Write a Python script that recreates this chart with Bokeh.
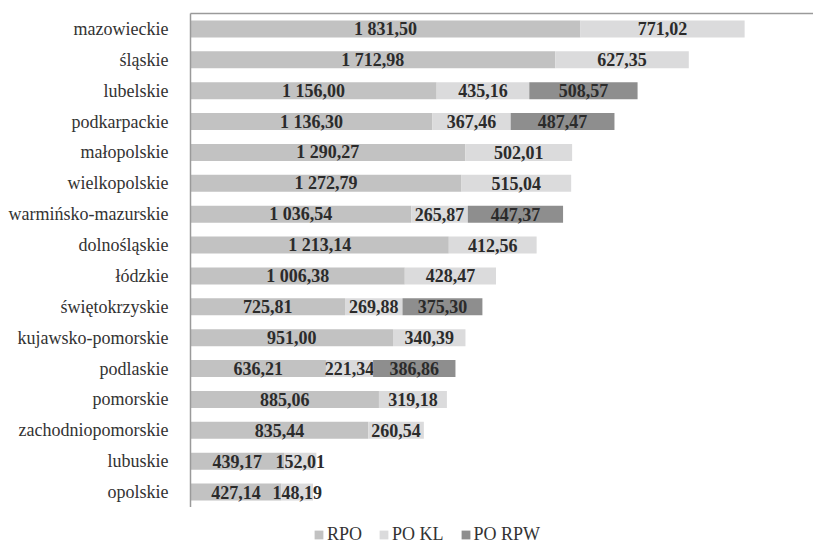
from bokeh.plotting import figure
from bokeh.layouts import column
from bokeh.models import ColumnDataSource, Range1d, FactorRange, Legend, LegendItem, FixedTicker
from bokeh.core.properties import value
from bokeh.embed import file_html
from bokeh.resources import INLINE

regions = ["mazowieckie", "śląskie", "lubelskie", "podkarpackie", "małopolskie",
           "wielkopolskie", "warmińsko-mazurskie", "dolnośląskie", "łódzkie",
           "świętokrzyskie", "kujawsko-pomorskie", "podlaskie", "pomorskie",
           "zachodniopomorskie", "lubuskie", "opolskie"]
rpo = [1831.50, 1712.98, 1156.00, 1136.30, 1290.27, 1272.79, 1036.54, 1213.14,
       1006.38, 725.81, 951.00, 636.21, 885.06, 835.44, 439.17, 427.14]
po_kl = [771.02, 627.35, 435.16, 367.46, 502.01, 515.04, 265.87, 412.56,
         428.47, 269.88, 340.39, 221.34, 319.18, 260.54, 152.01, 148.19]
po_rpw = [0, 0, 508.57, 487.47, 0, 0, 447.37, 0,
          0, 375.30, 0, 386.86, 0, 0, 0, 0]
series = ["RPO", "PO KL", "PO RPW"]
colors = ["#c2c2c2", "#dbdbdc", "#8e8e8e"]

def fmt(v):
    s = f"{v:,.2f}"
    return s.replace(",", " ").replace(".", ",")

FONT = "Liberation Serif"

p = figure(y_range=FactorRange(*list(reversed(regions)), range_padding=0),
           x_range=Range1d(0, 2926), width=813, height=507,
           output_backend="svg", toolbar_location=None, x_axis_location="above",
           min_border_left=190, min_border_right=0, min_border_top=13, min_border_bottom=0)

src = dict(RPO=rpo, PO_KL=po_kl, PO_RPW=po_rpw)
left = [0.0] * len(regions)
for key, col in zip(["RPO", "PO_KL", "PO_RPW"], colors):
    vals = src[key]
    right = [l + v for l, v in zip(left, vals)]
    s = ColumnDataSource(dict(y=regions, left=left, right=right,
                              mid=[(l + r) / 2 for l, r in zip(left, right)],
                              lab=[fmt(v) if v > 0 else "" for v in vals]))
    p.hbar(y="y", left="left", right="right", height=0.55, source=s,
           fill_color=col, line_color=None)
    p.text(x="mid", y="y", text="lab", source=s, text_align="center",
           text_baseline="middle", text_font=value(FONT), text_font_style="bold",
           text_font_size="18px", text_color="#2b2b2b")
    left = right

p.grid.visible = False
p.outline_line_color = None

xa = p.xaxis[0]
xa.ticker = FixedTicker(ticks=[])
xa.major_label_text_font_size = "0px"
xa.major_tick_line_color = None
xa.minor_tick_line_color = None
xa.axis_line_color = "#9a9a9a"
xa.axis_line_width = 1.5

ya = p.yaxis[0]
ya.major_tick_line_color = None
ya.minor_tick_line_color = None
ya.axis_line_color = "#9a9a9a"
ya.axis_line_width = 1.5
ya.major_label_text_font = FONT
ya.major_label_text_font_size = "18px"
ya.major_label_text_color = "#333333"
ya.major_label_standoff = 16

# legend strip (proxy renderers of zero width carry the legend swatches)
lf = figure(width=813, height=38, x_range=Range1d(0, 1), y_range=Range1d(0, 1),
            output_backend="svg", toolbar_location=None,
            min_border_left=0, min_border_right=0, min_border_top=0, min_border_bottom=0)
lf.axis.visible = False
lf.grid.visible = False
lf.outline_line_color = None
proxy = ColumnDataSource(dict(y=[0.0], left=[0.0], right=[0.0]))
dummies = [lf.hbar(y="y", left="left", right="right", height=0.0, source=proxy,
                   fill_color=c, line_color=None) for c in colors]
legend = Legend(items=[LegendItem(label=n, renderers=[r]) for n, r in zip(series, dummies)],
                orientation="horizontal", location=(123, 0),
                glyph_width=11, glyph_height=11, label_standoff=3, spacing=16,
                padding=0, margin=0, label_height=18,
                label_text_font=FONT, label_text_font_size="18px",
                label_text_color="#333333", border_line_color=None,
                background_fill_alpha=0)
lf.add_layout(legend, "center")

layout = column(p, lf, spacing=0)
open("out.html", "w").write(file_html(layout, INLINE))
